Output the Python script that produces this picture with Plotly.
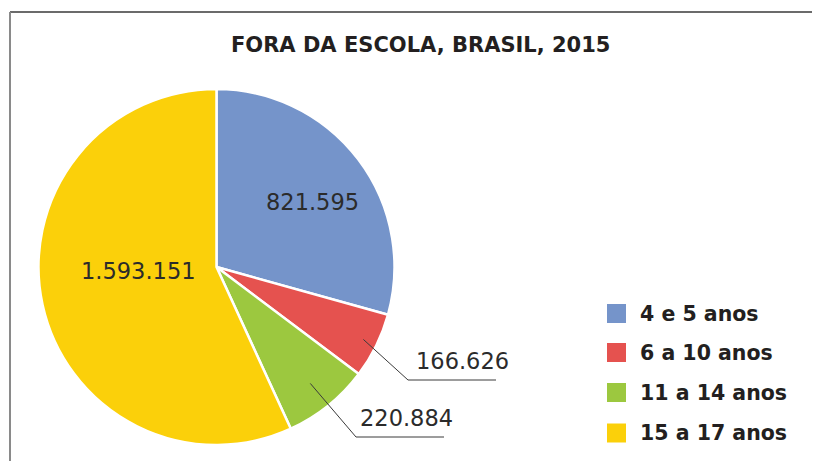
import math
import plotly.graph_objects as go

# ---- data ----
categories = ["4 e 5 anos", "6 a 10 anos", "11 a 14 anos", "15 a 17 anos"]
values = [821595, 166626, 220884, 1593151]
colors = ["#7594CA", "#E5524F", "#9CC83F", "#FBD00A"]
title_text = "FORA DA ESCOLA, BRASIL, 2015"

# page body has an 8px margin: figure is drawn at (8, 8) in the window
OFF = 8
W, H = 820 - OFF, 461 - OFF
TXT = "#231f20"

# pie geometry (window pixels)
cx, cy, R = 216.5, 267.0, 178.0

def px(x):
    return (x - OFF) / W

def py(y):
    return 1 - (y - OFF) / H

def fmt(v):
    return f"{v:,}".replace(",", ".")

fig = go.Figure()
fig.add_trace(go.Pie(
    labels=categories,
    values=values,
    sort=False,
    direction="clockwise",
    rotation=0,
    marker=dict(colors=colors, line=dict(color="white", width=2.5)),
    textinfo="none",
    hoverinfo="label+value",
    showlegend=False,
    domain=dict(x=[px(cx - R), px(cx + R)], y=[py(cy + R), py(cy - R)]),
))

total = sum(values)
mid_angles = []
acc = 0
for v in values:
    mid_angles.append((acc + v / 2) / total * 2 * math.pi)
    acc += v

def polar(frac, ang):
    return cx + frac * R * math.sin(ang), cy - frac * R * math.cos(ang)

annotations = []
shapes = []

# label placement
label_cfg = [
    ("inside", (312, 202)),
    ("outside", (0.92, (408, 380), (496, 380), (463, 361))),
    ("outside", (0.84, (356, 437), (444, 437), (406, 418))),
    ("inside", (138.5, 271)),
]
num_font = dict(family="DejaVu Sans", size=22.5, color="#2b2b2b")
for i, (mode, p) in enumerate(label_cfg):
    if mode == "inside":
        x, y = p
        annotations.append(dict(x=px(x), y=py(y), xref="paper", yref="paper",
                                text=fmt(values[i]), showarrow=False,
                                font=num_font, xanchor="center", yanchor="middle"))
    else:
        frac, elbow, end, tpos = p
        sx, sy = polar(frac, mid_angles[i])
        path = f"M {px(sx)} {py(sy)} L {px(elbow[0])} {py(elbow[1])} L {px(end[0])} {py(end[1])}"
        shapes.append(dict(type="path", xref="paper", yref="paper", path=path,
                           line=dict(color="#3a3a3a", width=1)))
        annotations.append(dict(x=px(tpos[0]), y=py(tpos[1]), xref="paper", yref="paper",
                                text=fmt(values[i]), showarrow=False,
                                font=num_font, xanchor="center", yanchor="middle"))

# title
annotations.append(dict(x=px(421), y=py(45.5), xref="paper", yref="paper",
                        text="<b>" + title_text + "</b>", showarrow=False,
                        font=dict(family="DejaVu Sans", size=21, color=TXT),
                        xanchor="center", yanchor="middle"))

# legend (manual)
leg_rows = [313.5, 352.5, 392.5, 433.0]
for cat, col, ry in zip(categories, colors, leg_rows):
    shapes.append(dict(type="rect", xref="paper", yref="paper",
                       x0=px(607), x1=px(626), y0=py(ry + 9.5), y1=py(ry - 9.5),
                       fillcolor=col, line=dict(width=0)))
    annotations.append(dict(x=px(638), y=py(ry), xref="paper", yref="paper",
                            text="<b>" + cat + "</b>", showarrow=False,
                            font=dict(family="DejaVu Sans", size=20.5, color=TXT),
                            xanchor="left", yanchor="middle"))

# frame
shapes.append(dict(type="line", xref="paper", yref="paper",
                   x0=px(10), x1=1.02, y0=py(12), y1=py(12),
                   line=dict(color="#3a3a3a", width=1.3)))
shapes.append(dict(type="line", xref="paper", yref="paper",
                   x0=px(10), x1=px(10), y0=py(12), y1=-0.02,
                   line=dict(color="#8a8a8a", width=2)))

fig.update_layout(
    width=W, height=H,
    margin=dict(l=0, r=0, t=0, b=0),
    paper_bgcolor="white", plot_bgcolor="white",
    annotations=annotations, shapes=shapes,
)
fig.write_html("out.html", config={"displayModeBar": False})
